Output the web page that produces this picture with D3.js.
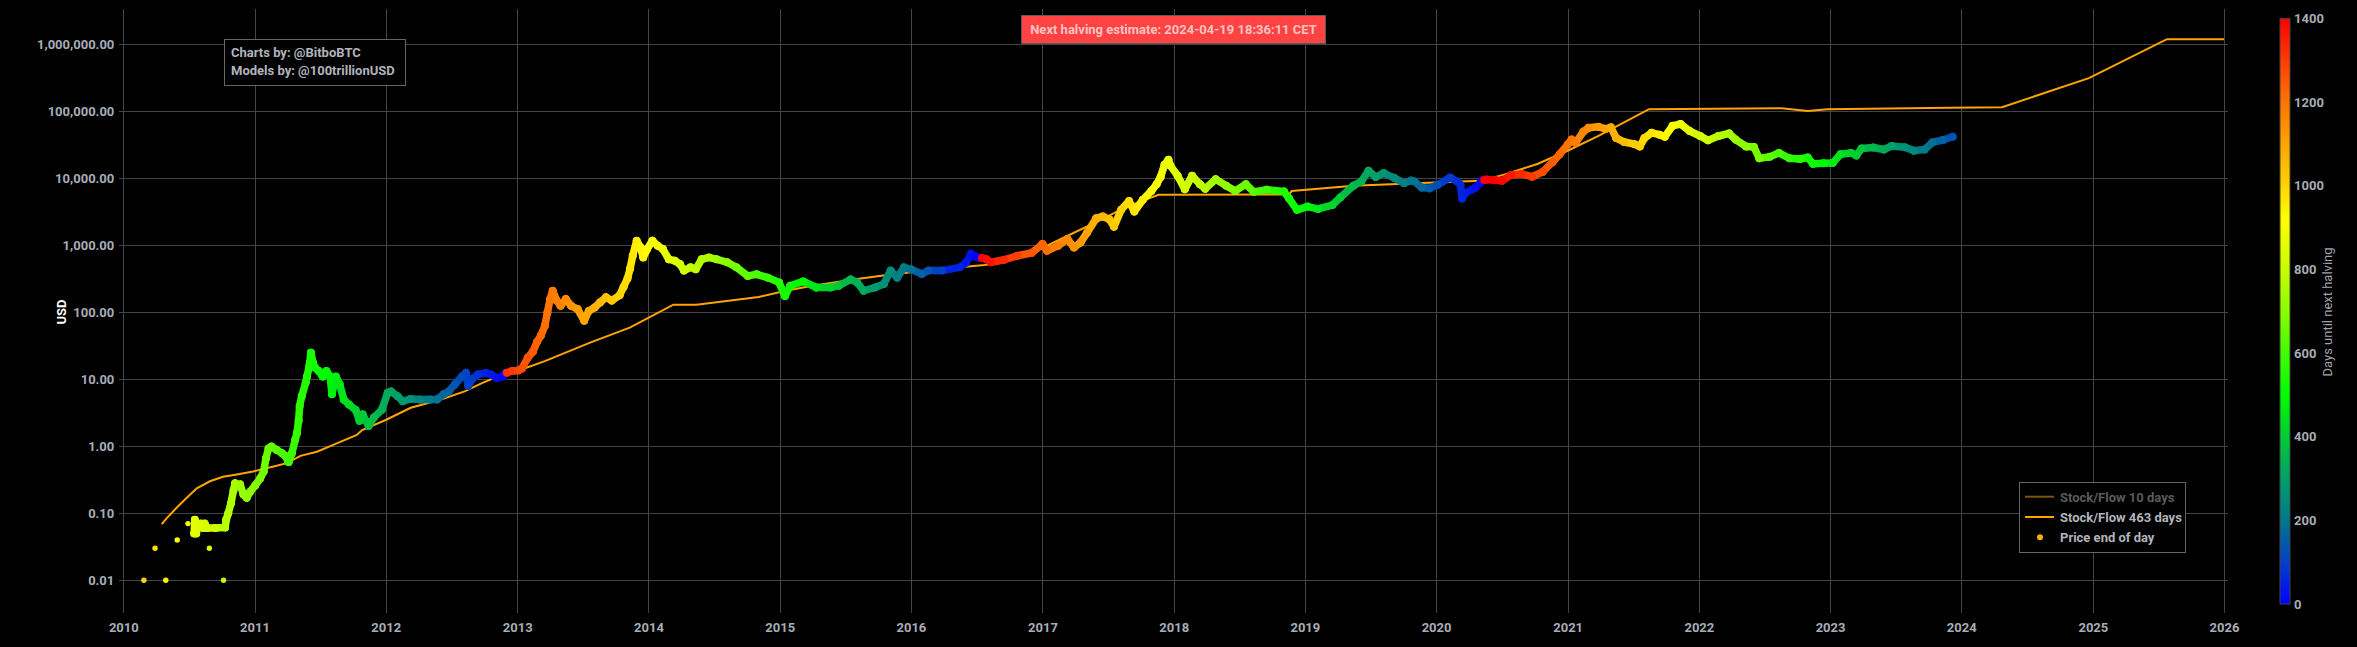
<!DOCTYPE html>
<html><head><meta charset="utf-8">
<script src="https://cdn.jsdelivr.net/npm/d3@7/dist/d3.min.js"></script>
<style>html,body{margin:0;padding:0;background:#000;overflow:hidden}svg{display:block}</style>
</head><body>
<svg id="chart" width="2357" height="647"></svg>
<script>
// ---------------- DATA ----------------
const yearTicks = [2010,2011,2012,2013,2014,2015,2016,2017,2018,2019,2020,2021,2022,2023,2024,2025,2026];
const yTickValues = [0.01,0.1,1,10,100,1000,10000,100000,1000000];
const halvingDates = ["2012-11-28","2016-07-09","2020-05-11","2024-04-19"];
const colorbarTicks = [0,200,400,600,800,1000,1200,1400];
const colorStopDays = [0,100,200,300,400,500,600,700,800,920,1000,1100,1200,1300,1400];
const colorStopColors = ["#0000ff","#0040c8","#00788c","#00a068","#00cc33","#00ff00","#40ff00","#88ff00","#c8ff00","#ffff00","#ffd400","#ffa400","#ff7400","#ff3c00","#ff0000"];

// isolated early trades (decimal year, USD)
const earlyDotYears  = [2010.157,2010.242,2010.324,2010.411,2010.493,2010.656,2010.764];
const earlyDotValues = [0.01,0.03,0.01,0.04,0.07,0.03,0.01];

// daily close trail (decimal year, USD)
const priceYears = [
2010.54,2010.545,2010.55,2010.556,2010.565,2010.59,2010.61,2010.62,2010.64,2010.70,2010.776,2010.784,2010.80,2010.82,2010.84,2010.852,2010.87,2010.89,2010.916,2010.94,2010.967,
2011.005,2011.043,2011.07,2011.087,2011.107,2011.13,2011.17,2011.21,2011.234,2011.26,2011.285,2011.31,2011.323,2011.336,2011.344,2011.36,2011.39,2011.40,2011.417,2011.43,2011.446,2011.46,2011.49,2011.52,2011.548,2011.577,2011.59,2011.62,2011.65,2011.68,2011.72,2011.77,2011.80,2011.825,2011.87,2011.91,2011.97,
2012.015,2012.04,2012.09,2012.13,2012.19,2012.26,2012.335,2012.39,2012.44,2012.48,2012.525,2012.58,2012.61,2012.627,2012.656,2012.70,2012.76,2012.80,2012.845,2012.89,2012.905,2012.92,2012.96,
2013.006,2013.035,2013.08,2013.12,2013.15,2013.18,2013.21,2013.23,2013.25,2013.27,2013.30,2013.33,2013.37,2013.41,2013.46,2013.51,2013.545,2013.59,2013.63,2013.676,2013.72,2013.78,2013.81,2013.84,2013.86,2013.88,2013.91,2013.94,2013.96,2013.99,
2014.03,2014.07,2014.11,2014.155,2014.20,2014.24,2014.27,2014.32,2014.36,2014.405,2014.46,2014.52,2014.6,2014.67,2014.757,2014.825,2014.91,2014.995,
2015.04,2015.08,2015.18,2015.28,2015.386,2015.45,2015.54,2015.59,2015.64,2015.726,2015.794,2015.845,2015.896,2015.947,
2016.0,2016.083,2016.134,2016.236,2016.372,2016.42,2016.457,2016.49,2016.51,2016.54,2016.575,2016.61,2016.71,2016.81,2016.916,2016.99,
2017.0,2017.035,2017.12,2017.19,2017.24,2017.29,2017.34,2017.41,2017.46,2017.51,2017.545,2017.6,2017.66,2017.7,2017.765,2017.83,2017.87,2017.9,2017.93,2017.96,2017.975,
2018.03,2018.085,2018.14,2018.2,2018.24,2018.32,2018.4,2018.47,2018.55,2018.61,2018.71,2018.84,2018.88,2018.94,
2019.02,2019.1,2019.21,2019.27,2019.37,2019.43,2019.485,2019.54,2019.6,2019.68,2019.757,2019.81,2019.835,2019.89,2019.95,
2020.01,2020.107,2020.16,2020.185,2020.197,2020.22,2020.27,2020.3,2020.34,2020.355,2020.365,2020.38,2020.45,2020.5,2020.57,2020.65,2020.73,2020.81,2020.885,2020.94,
2021.0,2021.03,2021.06,2021.12,2021.16,2021.235,2021.29,2021.33,2021.37,2021.43,2021.51,2021.55,2021.585,2021.64,2021.7,2021.74,2021.8,2021.86,2021.93,
2022.01,2022.07,2022.15,2022.23,2022.28,2022.36,2022.42,2022.46,2022.54,2022.61,2022.69,2022.77,2022.83,2022.87,2022.95,
2023.02,2023.08,2023.16,2023.2,2023.24,2023.33,2023.41,2023.47,2023.57,2023.64,2023.72,2023.78,2023.86,2023.935];
const priceValues = [
0.05,0.08,0.07,0.05,0.06,0.07,0.06,0.07,0.06,0.06,0.061,0.08,0.1,0.14,0.22,0.28,0.26,0.27,0.19,0.17,0.21,
0.26,0.33,0.42,0.66,0.93,0.99,0.88,0.79,0.72,0.58,0.79,1.25,1.56,2.4,4.0,5.6,8.9,11,15.6,25,17.7,15,13.3,11,13.3,11,6,11,8.4,5,4.2,3.5,2.4,3.0,2.0,2.7,3.5,
6.3,6.6,5.6,4.7,5.1,5.0,5.0,5.0,6.0,6.6,8.4,11,12.5,8.0,10,11.8,12.5,11.8,10.5,11,12.3,12.5,13.3,
13.5,14.5,21,26,36,45,63,100,158,210,150,125,158,125,112,75,105,118,140,168,150,180,240,320,450,700,1170,930,660,880,
1170,990,880,620,590,525,420,470,440,620,660,620,560,470,350,370,330,280,
175,250,290,235,235,250,310,280,210,235,265,420,330,470,
440,375,420,420,470,555,750,680,660,650,620,560,610,700,770,1000,
1050,830,990,1250,930,1100,1550,2550,2700,2450,1900,3400,4600,3200,4800,6500,8200,10500,16000,19000,15500,
11000,6900,11000,8200,7000,9700,7800,6500,8200,6300,6800,6400,5000,3400,
3800,3500,4000,5200,7800,9000,13000,10500,12000,10200,8500,9300,9000,7300,7100,
8000,10300,9000,8000,5000,6000,6800,7300,8800,9400,9500,9600,9400,9200,11200,11600,10600,12500,17500,23000,
32000,38000,34000,50000,57000,59000,55000,58000,40000,35000,32500,30000,40000,48000,45000,42000,61000,65000,51000,
43000,37000,43000,47000,38000,30000,29500,20000,21000,24000,20000,19500,20500,16500,16800,
17000,23000,24000,22000,28000,29000,27000,30500,29300,26000,27000,34500,37500,42000];

// Stock/Flow 463 days model (decimal year, USD)
const sfYears = [2010.293,2010.33,2010.41,2010.48,2010.56,2010.66,2010.76,2010.865,2010.99,2011.145,2011.247,2011.35,2011.476,2011.6,2011.78,2011.82,2012.0,2012.19,2012.42,2012.6,2012.74,2012.86,2013.0,2013.21,2013.55,2013.857,2014.19,2014.366,2014.84,2015.046,2015.25,2015.59,2015.86,2016.27,2016.56,2016.78,2016.98,2017.22,2017.43,2017.63,2017.884,2018.88,2018.9,2019.37,2019.99,2020.34,2020.53,2020.77,2021.0,2021.235,2021.43,2021.62,2022.63,2022.83,2022.98,2023.91,2024.31,2024.97,2025.565,2026.0];
const sfValues = [0.069,0.084,0.123,0.167,0.236,0.30,0.35,0.38,0.42,0.5,0.56,0.72,0.83,1.05,1.48,1.75,2.47,3.76,5.0,6.6,8.9,11.2,13.3,18.7,35,59,130,130,170,210,250,315,370,450,510,620,880,1480,2330,3700,5700,5750,6500,7760,8700,9200,11600,16400,25900,43300,68500,108000,112000,102000,108000,114000,116000,314000,1200000,1200000];

// ---------------- HELPERS ----------------
function decYear(t){const y=Math.floor(t);const a=Date.UTC(y,0,1),b=Date.UTC(y+1,0,1);return new Date(a+(t-y)*(b-a));}
const halvings = halvingDates.map(s=>new Date(s+"T00:00:00Z"));
function daysUntilHalving(d){const h=halvings.find(h=>h>d)||halvings[halvings.length-1];return Math.max(0,(h-d)/86400000);}
const color = d3.scaleLinear().domain(colorStopDays).range(colorStopColors).interpolate(d3.interpolateRgb).clamp(true);

const FONT = "Roboto, 'DejaVu Sans', sans-serif";
const TXT = "#a7adb5";
const svg = d3.select("#chart");
svg.append("rect").attr("width",2357).attr("height",647).attr("fill","#000");

const plotTop = 9, plotBottom = 609, plotLeft = 123.3, plotRight = 2228;
const x = d3.scaleUtc().domain([new Date(Date.UTC(2010,0,1)), new Date(Date.UTC(2026,0,12))]).range([plotLeft, plotRight]);
const y = d3.scaleLog().domain([Math.pow(10,-2.43), Math.pow(10,6.53)]).range([plotBottom, plotTop]);

// x axis + vertical grid
const xAxis = d3.axisBottom(x)
  .tickValues(yearTicks.map(yy=>new Date(Date.UTC(yy,0,1))))
  .tickFormat(d3.utcFormat("%Y"))
  .tickSizeInner(-(plotBottom+4-plotTop)).tickSizeOuter(0).tickPadding(10);
const gx = svg.append("g").attr("transform",`translate(0,${plotBottom+4})`).call(xAxis);
gx.select(".domain").remove();
gx.selectAll(".tick line").attr("stroke","#444").attr("shape-rendering","crispEdges");
gx.selectAll(".tick text").attr("fill",TXT).style("font-family",FONT).style("font-size","13px").style("font-weight","700");

// y axis + horizontal grid
const yAxis = d3.axisLeft(y).tickValues(yTickValues).tickFormat(d3.format(",.2f"))
  .tickSizeInner(-(plotRight-(plotLeft-4))).tickSizeOuter(0).tickPadding(5);
const gy = svg.append("g").attr("transform",`translate(${plotLeft-4},0)`).call(yAxis);
gy.select(".domain").remove();
gy.selectAll(".tick line").attr("stroke","#444").attr("shape-rendering","crispEdges");
gy.selectAll(".tick text").attr("fill",TXT).style("font-family",FONT).style("font-size","13px").style("font-weight","700");

svg.append("text").attr("transform","translate(66,312) rotate(-90)").attr("text-anchor","middle")
  .attr("fill","#ffffff").style("font-family",FONT).style("font-size","13px").style("font-weight","700").text("USD");

// clip
svg.append("clipPath").attr("id","clip").append("rect").attr("x",plotLeft).attr("y",plotTop).attr("width",plotRight-plotLeft).attr("height",plotBottom-plotTop);
const plot = svg.append("g").attr("clip-path","url(#clip)");

// S/F 463 line
const sfData = sfYears.map((t,i)=>({d:decYear(t),v:sfValues[i]}));
plot.append("path").datum(sfData)
  .attr("d",d3.line().x(p=>x(p.d)).y(p=>y(p.v)))
  .attr("fill","none").attr("stroke","#ffa500").attr("stroke-width",2);

// price trail
const pts = priceYears.map((t,i)=>{const d=decYear(t);return {d,v:priceValues[i],c:color(daysUntilHalving(d))};});
const segs = d3.pairs(pts);
plot.append("g").selectAll("line").data(segs).join("line")
  .attr("x1",s=>x(s[0].d)).attr("y1",s=>y(s[0].v)).attr("x2",s=>x(s[1].d)).attr("y2",s=>y(s[1].v))
  .attr("stroke",s=>s[1].c).attr("stroke-width",7.5).attr("stroke-linecap","round");
plot.append("g").selectAll("circle").data(pts).join("circle")
  .attr("cx",p=>x(p.d)).attr("cy",p=>y(p.v)).attr("r",4).attr("fill",p=>p.c);
const early = earlyDotYears.map((t,i)=>{const d=decYear(t);return {d,v:earlyDotValues[i],c:color(daysUntilHalving(d))};});
plot.append("g").selectAll("circle").data(early).join("circle")
  .attr("cx",p=>x(p.d)).attr("cy",p=>y(p.v)).attr("r",2.7).attr("fill",p=>p.c);

// annotation box
svg.append("rect").attr("x",224.5).attr("y",39.5).attr("width",181).attr("height",46).attr("fill","#000").attr("stroke","#666");
svg.append("text").attr("x",231).attr("y",56.5).attr("fill","#b0b5bb").style("font-family",FONT).style("font-size","13px").style("font-weight","700").text("Charts by: @BitboBTC");
svg.append("text").attr("x",231).attr("y",74.5).attr("fill","#b0b5bb").style("font-family",FONT).style("font-size","13px").style("font-weight","700").text("Models by: @100trillionUSD");

// halving box
svg.append("rect").attr("x",1021.5).attr("y",15.5).attr("width",304).attr("height",28).attr("fill","#ff4242").attr("stroke","#5a5a5a");
svg.append("text").attr("x",1173.5).attr("y",33.5).attr("text-anchor","middle").attr("fill","#f7c4c4").style("font-family",FONT).style("font-size","13px").style("font-weight","700").text("Next halving estimate: 2024-04-19 18:36:11 CET");

// legend
const lg = svg.append("g");
lg.append("rect").attr("x",2019.5).attr("y",482.5).attr("width",166).attr("height",70).attr("fill","#000").attr("stroke","#666");
lg.append("line").attr("x1",2025).attr("x2",2054).attr("y1",496.7).attr("y2",496.7).attr("stroke","#7a5608").attr("stroke-width",2);
lg.append("text").attr("x",2060).attr("y",502).attr("fill","#5b5b5b").style("font-family",FONT).style("font-size","13px").style("font-weight","700").text("Stock/Flow 10 days");
lg.append("line").attr("x1",2025).attr("x2",2054).attr("y1",517).attr("y2",517).attr("stroke","#ffa500").attr("stroke-width",2);
lg.append("text").attr("x",2060).attr("y",522).attr("fill","#b0b5bb").style("font-family",FONT).style("font-size","13px").style("font-weight","700").text("Stock/Flow 463 days");
lg.append("circle").attr("cx",2040).attr("cy",537.3).attr("r",3).attr("fill","#ffb000");
lg.append("text").attr("x",2060).attr("y",542).attr("fill","#b0b5bb").style("font-family",FONT).style("font-size","13px").style("font-weight","700").text("Price end of day");

// colorbar
const cbTop = 18.5, cbBottom = 604, cbX = 2280, cbW = 10;
const grad = svg.append("defs").append("linearGradient").attr("id","cbgrad").attr("x1",0).attr("x2",0).attr("y1",1).attr("y2",0);
grad.selectAll("stop").data(colorStopDays).join("stop")
  .attr("offset",d=>d/1400).attr("stop-color",(d,i)=>colorStopColors[i]);
svg.append("rect").attr("x",cbX).attr("y",cbTop).attr("width",cbW).attr("height",cbBottom-cbTop).attr("fill","url(#cbgrad)").attr("stroke","#444");
const cbScale = d3.scaleLinear().domain([0,1400]).range([cbBottom,cbTop]);
const gcb = svg.append("g").attr("transform",`translate(${cbX+cbW},0)`).call(d3.axisRight(cbScale).tickValues(colorbarTicks).tickFormat(d3.format("d")).tickSize(0).tickPadding(4));
gcb.select(".domain").remove();
gcb.selectAll(".tick text").attr("fill",TXT).style("font-family",FONT).style("font-size","13px").style("font-weight","700");
svg.append("text").attr("transform","translate(2332,312) rotate(-90)").attr("text-anchor","middle")
  .attr("fill","#a0a5ab").style("font-family",FONT).style("font-size","13px").text("Days until next halving");
</script>
</body></html>
